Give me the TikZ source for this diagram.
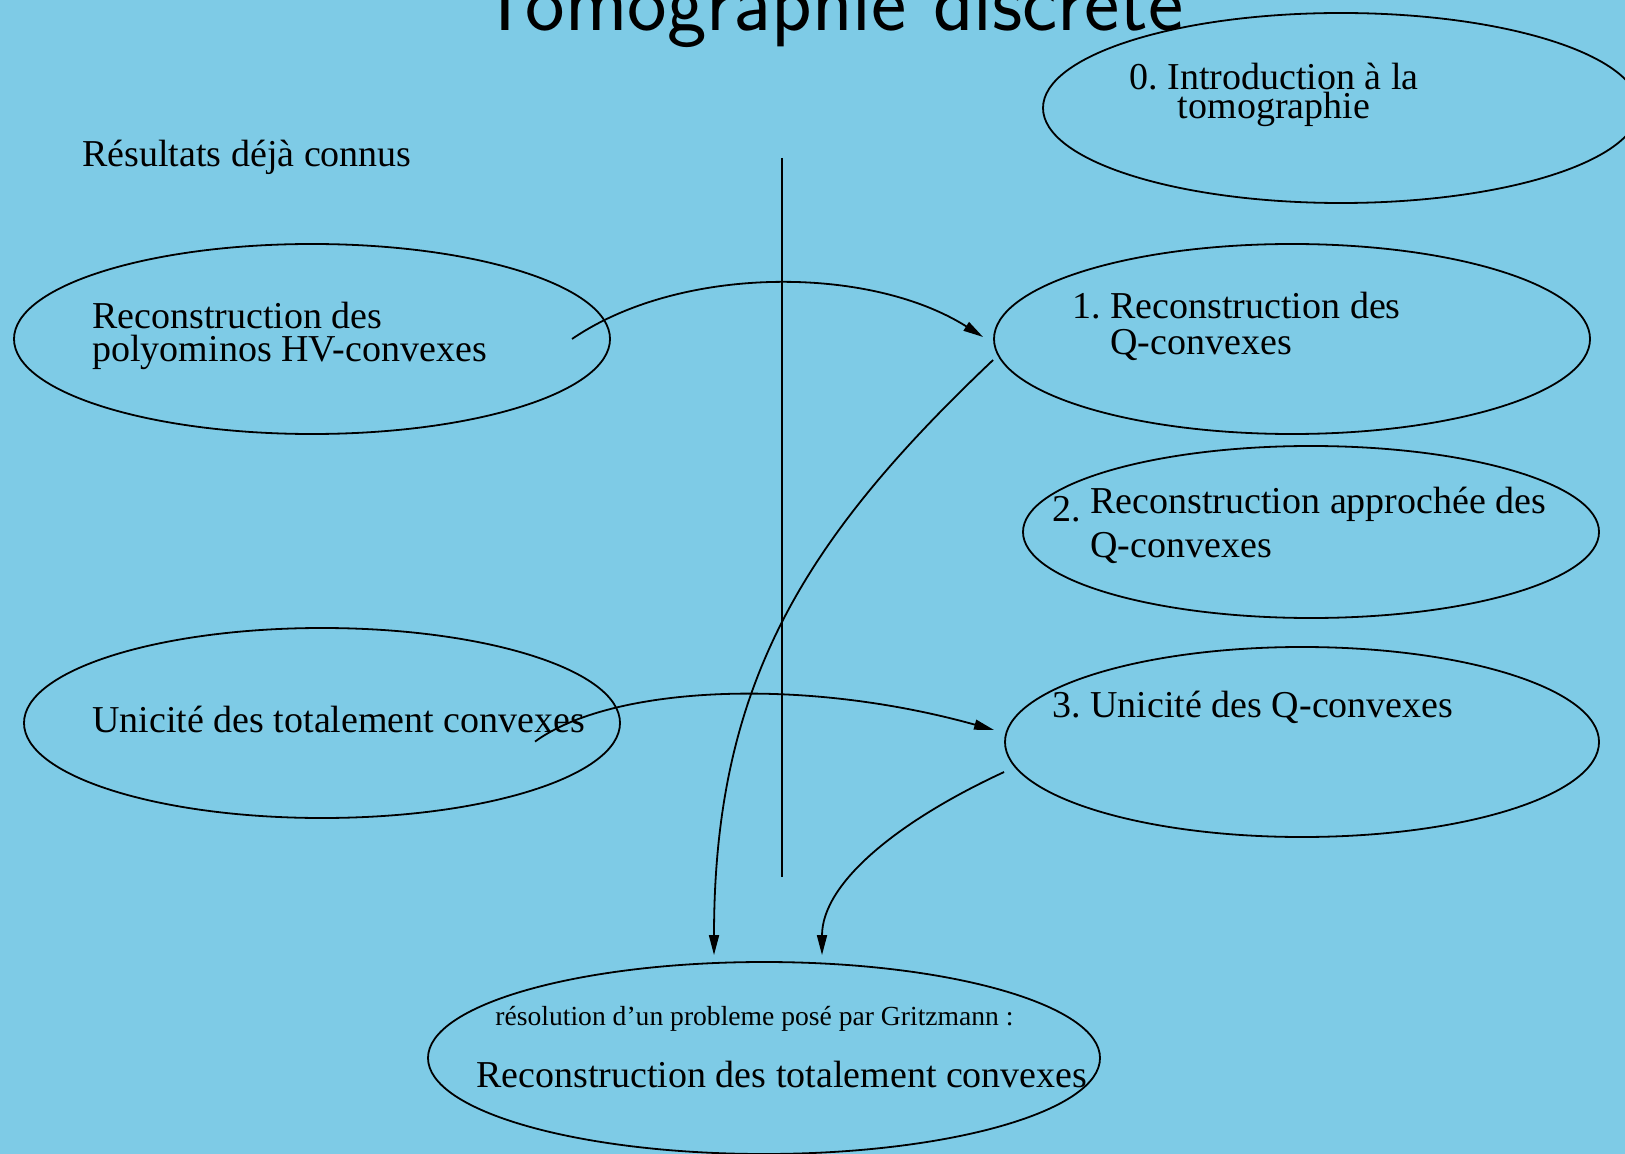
\documentclass[tikz,border=0pt]{standalone}
\usepackage{fontspec}
\setmainfont{Liberation Serif}
\usetikzlibrary{arrows.meta,shapes.geometric}
\definecolor{slideblue}{RGB}{126,203,230}
\frenchspacing
\def\bigtxt{\fontsize{19}{19}\selectfont}
\def\smalltxt{\fontsize{13.8}{14}\selectfont}
\tikzset{
	oval/.style={draw, ellipse, line width=0.9pt, inner sep=0pt},
	txt/.style={anchor=base west, inner sep=0pt, font=\bigtxt},
	link/.style={-{Triangle[length=10pt,width=5pt]}, line width=0.9pt}
}

\begin{document}
\begin{tikzpicture}[x=0.5pt,y=-0.5pt]
		%%%%% START %%%%%
		
		\fill[slideblue] (0, 0) rectangle (1625, 1154);
		\useasboundingbox (0, 0) rectangle (1625, 1154);
		
		\node[anchor=base, inner sep=0pt, font=\sffamily\fontsize{42}{42}\selectfont] (title) at (831, 31) {Tomographie discrète};
		
		% ellipses
		\node[oval, minimum width=298pt, minimum height=95pt] (intro) at (1341, 108) {};
		\node[oval, minimum width=298pt, minimum height=95pt] (hv) at (312, 339) {};
		\node[oval, minimum width=298pt, minimum height=95pt] (q1) at (1292, 339) {};
		\node[oval, minimum width=288pt, minimum height=86pt] (q2) at (1311, 532) {};
		\node[oval, minimum width=298pt, minimum height=95pt] (tc) at (322, 723) {};
		\node[oval, minimum width=297pt, minimum height=95pt] (q3) at (1302, 742) {};
		\node[oval, minimum width=336pt, minimum height=96pt] (res) at (764, 1058) {};
		
		% texts
		\node[txt] (known) at (82, 167) {Résultats déjà connus};
		\node[txt, anchor=base] (introa) at (1274, 90) {0. Introduction à la};
		\node[txt, anchor=base] (introb) at (1274, 119) {tomographie};
		\node[txt] (hva) at (92, 329) {Reconstruction des};
		\node[txt] (hvb) at (92, 362) {polyominos HV-convexes};
		\node[txt] (q1n) at (1072, 319) {1.};
		\node[txt] (q1a) at (1110, 319) {Reconstruction des};
		\node[txt] (q1b) at (1110, 355) {Q-convexes};
		\node[txt] (q2n) at (1052, 521) {2.};
		\node[txt] (q2a) at (1090, 513) {Reconstruction approchée des};
		\node[txt] (q2b) at (1090, 557) {Q-convexes};
		\node[txt] (tca) at (92, 732) {Unicité des totalement convexes};
		\node[txt] (q3a) at (1052, 717) {3. Unicité des Q-convexes};
		\node[txt, font=\smalltxt] (resa) at (495, 1025) {résolution d’un probleme posé par Gritzmann :};
		\node[txt] (resb) at (476, 1087) {Reconstruction des totalement convexes};
		
		% separator
		\coordinate (septop) at (782, 158);
		\coordinate (sepbot) at (782, 877);
		\draw[line width=0.8pt] (septop) -- (sepbot);
		
		% arrow ends
		\coordinate (hvout) at ([xshift=130pt]hv.center);
		\coordinate (q1in) at ([xshift=-5pt,yshift=1pt]q1.west);
		\coordinate (q1out) at ([yshift=-10.5pt]q1.west);
		\coordinate (tcout) at ([xshift=106.5pt,yshift=-9.3pt]tc.center);
		\coordinate (q3in) at ([xshift=-5pt,yshift=6pt]q3.west);
		\coordinate (q3out) at ([yshift=-15pt]q3.west);
		\coordinate (resinl) at ([xshift=-25pt,yshift=3pt]res.north);
		\coordinate (resinr) at ([xshift=29pt,yshift=3pt]res.north);
		
		\draw[link] (hvout) .. controls +(108, -74) and +(-114, -72) .. (q1in);
		\draw[link] (q1out) .. controls +(-190, 180) and +(0, -270) .. (resinl);
		\draw[link] (tcout) .. controls +(75, -55) and +(-194, -54) .. (q3in);
		\draw[link] (q3out) .. controls +(-104, 48) and +(0, -73) .. (resinr);
		
		%%%%% END %%%%%
	\end{tikzpicture}
\end{document}
